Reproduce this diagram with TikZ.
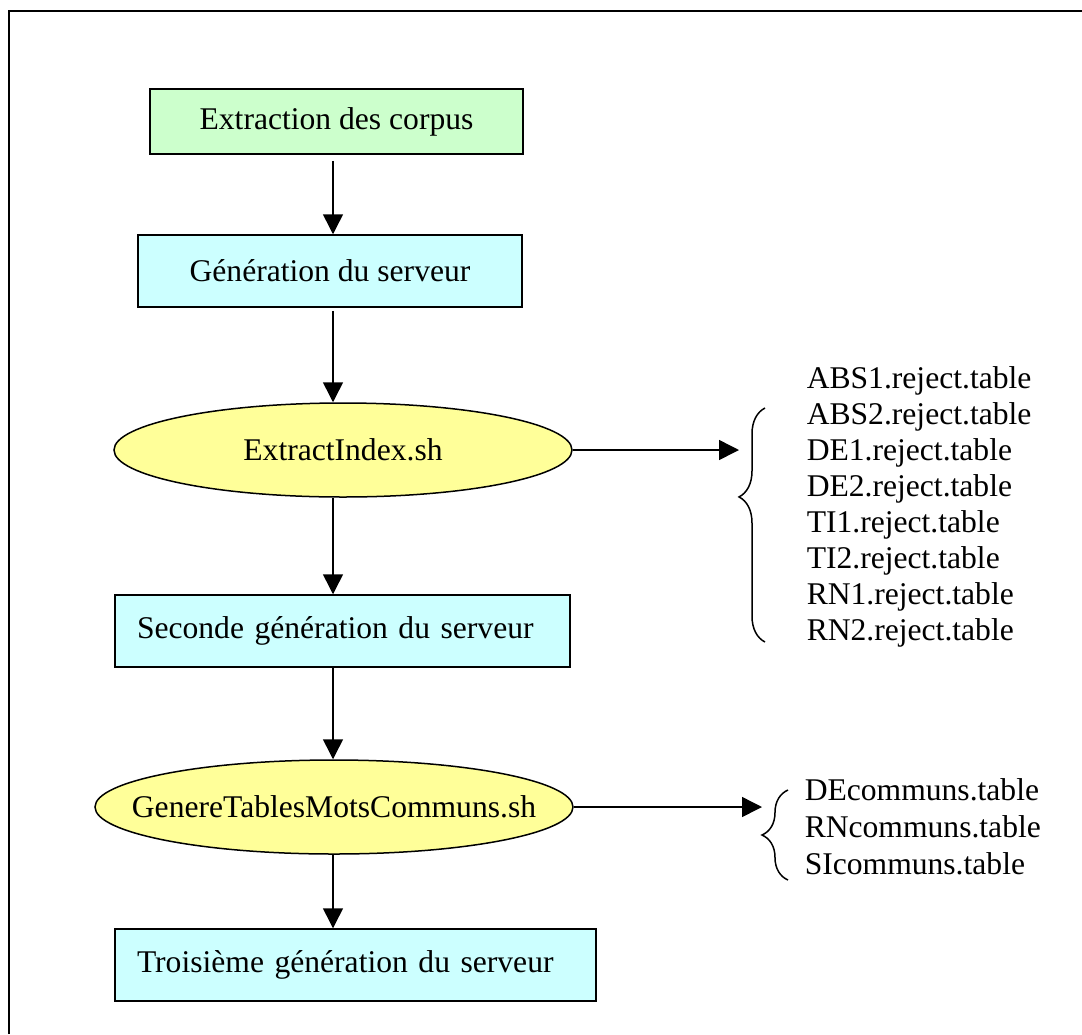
\documentclass[tikz,border=0pt]{standalone}
\usepackage{fontspec}
\setmainfont{Liberation Serif}
\usetikzlibrary{arrows.meta, shapes, positioning, decorations.pathreplacing}

\definecolor{vertclair}{HTML}{CCFFCC}
\definecolor{cyanclair}{HTML}{CCFFFF}
\definecolor{jauneclair}{HTML}{FFFF99}

\begin{document}
\begin{tikzpicture}[x=0.5pt,y=-0.5pt,font=\fontsize{15.8pt}{18pt}\selectfont,->,>={Triangle[length=10pt,width=10pt]},line width=0.75pt]

	\tikzset{proc/.style={draw, -, fill=cyanclair, rectangle, inner sep=0pt, minimum height=36pt},
		procl/.style={proc, align=left, inner xsep=11pt},
		script/.style={draw, -, fill=jauneclair, ellipse, inner sep=0pt, minimum height=47pt},
		liste/.style={align=left, anchor=west, inner sep=0pt},
		accolade/.style={-, decorate, line width=0.75pt}}

	\useasboundingbox (0,0) rectangle (1082,1034);
	\draw[-, line width=1pt] (9,1034) -- (9,11) -- (1082,11);

	\coordinate (axe) at (333,0);

	\node[proc, fill=vertclair, minimum width=186.5pt, minimum height=32.5pt] (corpus) at (336.5,121.5) {Extraction des corpus};
	\node[proc, minimum width=192pt] (serveur) at (330,271) {Génération du serveur};
	\node[script, minimum width=229pt] (extract) at (343,450) {\makebox[0pt]{ExtractIndex.sh}};
	\node[procl, text width=205.5pt] (seconde) at (342.5,631) {Seconde génération du serveur};
	\node[script, minimum width=239pt] (genere) at (334,807) {\makebox[0pt]{GenereTablesMotsCommuns.sh}};
	\node[procl, text width=218.5pt] (troisieme) at (355.5,965) {Troisième génération du serveur};

	\node[liste] (rejets) at (806,506.5) {ABS1.reject.table\\ABS2.reject.table\\DE1.reject.table\\DE2.reject.table\\TI1.reject.table\\TI2.reject.table\\RN1.reject.table\\RN2.reject.table};
	\node[liste, font=\fontsize{15.8pt}{18.5pt}\selectfont] (communs) at (804,827) {DEcommuns.table\\RNcommuns.table\\SIcommuns.table};

	\coordinate (pointe1) at (739,497);
	\coordinate (pointe2) at (762,835);

	\draw (corpus.south -| axe) ++(0,6) -- (serveur.north -| axe);
	\draw (serveur.south -| axe) ++(0,3) -- (extract.north -| axe);
	\draw (extract.south -| axe) -- (seconde.north -| axe);
	\draw (seconde.south -| axe) -- (genere.north -| axe);
	\draw (genere.south -| axe) -- (troisieme.north -| axe);

	\draw (extract.east) -- (extract.east -| pointe1);
	\draw (genere.east) -- (genere.east -| pointe2);

	\draw[accolade, decoration={brace, amplitude=13pt, aspect=0.62}] (765,642) -- (765,408);
	\draw[accolade, decoration={brace, amplitude=13pt}] (788,880) -- (788,790);

\end{tikzpicture}
\end{document}
